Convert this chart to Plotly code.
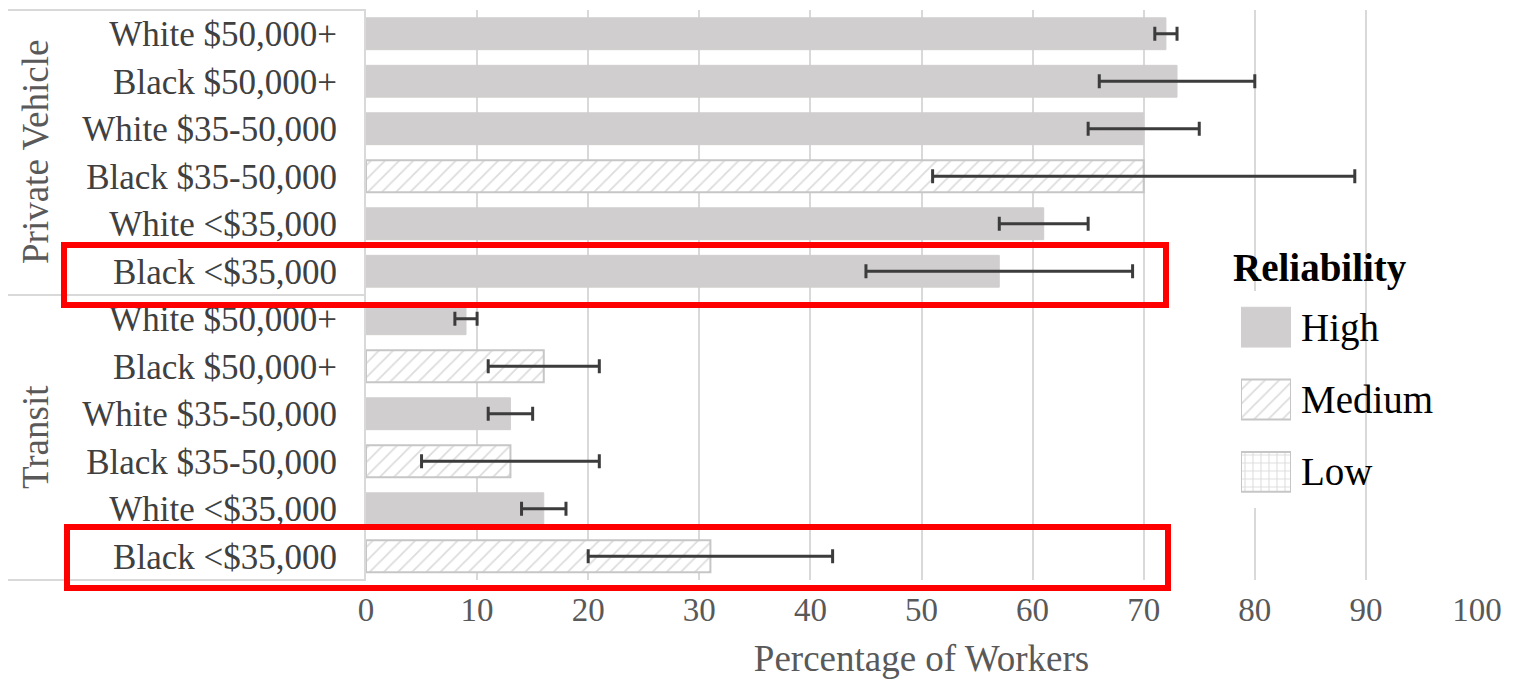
import plotly.graph_objects as go

# ---------------- data ----------------
modes = ["Private Vehicle"] * 6 + ["Transit"] * 6
groups = [
    "White $50,000+", "Black $50,000+", "White $35-50,000",
    "Black $35-50,000", "White <$35,000", "Black <$35,000",
    "White $50,000+", "Black $50,000+", "White $35-50,000",
    "Black $35-50,000", "White <$35,000", "Black <$35,000",
]
values = [72, 73, 70, 70, 61, 57, 9, 16, 13, 13, 16, 31]
errors = [1, 7, 5, 19, 4, 12, 1, 5, 2, 8, 2, 11]
reliability = ["High", "High", "High", "Medium", "High", "High",
               "High", "Medium", "High", "Medium", "High", "Medium"]
levels = ["High", "Medium", "Low"]
x_ticks = [0, 10, 20, 30, 40, 50, 60, 70, 80, 90, 100]

# ---------------- styling ----------------
W, H = 1514, 681
OFF = 8  # default page body margin
# plot area in screen pixels
SX0, SX1, SY0, SY1 = 366, 1477, 10, 580
L, T = SX0 - OFF, SY0 - OFF
R = W - (SX1 - OFF)
B = H - (SY1 - OFF)
PW, PH = SX1 - SX0, SY1 - SY0
FONT = "Liberation Serif, Times New Roman, serif"
GRID = "#d9d9d9"


def px(x):
    return (x - SX0) / PW


def py(y):
    return (SY1 - y) / PH


styles = {
    "High": dict(color="#d0cece", line=dict(color="#d0cece", width=1)),
    "Medium": dict(color="white", line=dict(color="#c6c6c6", width=2),
                   pattern=dict(shape="/", fgcolor="#b9b9b9", bgcolor="white",
                                size=10, solidity=0.18)),
    "Low": dict(color="white", line=dict(color="#c6c6c6", width=2),
                pattern=dict(shape="+", fgcolor="#bdbdbd", bgcolor="white",
                             size=8, solidity=0.25)),
}

keys = [f"{m}|{g}" for m, g in zip(modes, groups)]

fig = go.Figure()
for lev in levels:
    idx = [i for i, r in enumerate(reliability) if r == lev]
    if not idx:
        continue
    fig.add_trace(go.Bar(
        orientation="h",
        y=[keys[i] for i in idx],
        x=[values[i] for i in idx],
        width=0.67,
        marker=styles[lev],
        error_x=dict(type="data", array=[errors[i] for i in idx],
                     color="#3c3c3c", thickness=3, width=7),
        showlegend=False, xaxis="x", yaxis="y",
    ))

# legend swatches as a small bar subplot
for lev in levels:
    fig.add_trace(go.Bar(
        orientation="h", y=[lev], x=[1], width=0.55,
        marker=styles[lev], showlegend=False,
        xaxis="x2", yaxis="y2", hoverinfo="skip",
    ))

fig.update_layout(
    width=W, height=H,
    margin=dict(l=L, r=R, t=T, b=B),
    paper_bgcolor="white", plot_bgcolor="white",
    barmode="overlay",
    font=dict(family=FONT),
    xaxis=dict(
        range=[0, 100], tickvals=x_ticks, showgrid=True, gridcolor=GRID,
        gridwidth=2, zeroline=False, showline=False,
        tickfont=dict(size=33, color="#595959", family=FONT),
        ticklabelstandoff=7,
        title=dict(text="Percentage of Workers",
                   font=dict(size=37, color="#595959", family=FONT),
                   standoff=18),
    ),
    yaxis=dict(
        type="category", categoryarray=keys, autorange="reversed",
        tickvals=keys, ticktext=groups,
        tickfont=dict(size=35, color="#404040", family=FONT),
        ticklabelstandoff=20,
        showgrid=False, zeroline=False,
        showline=True, linecolor=GRID, linewidth=2,
    ),
    xaxis2=dict(domain=[px(1241), px(1291)], anchor="y2", range=[0, 1],
                visible=False),
    yaxis2=dict(domain=[py(508), py(291)], anchor="x2", type="category",
                categoryarray=levels, autorange="reversed", side="right",
                showgrid=False, zeroline=False, showline=False,
                tickfont=dict(size=39, color="black", family=FONT),
                ticklabelstandoff=9),
)

# header table lines on the left
for yy in (10, 295, 580):
    fig.add_shape(type="line", xref="paper", yref="paper",
                  x0=px(8), x1=px(366), y0=py(yy), y1=py(yy),
                  line=dict(color=GRID, width=2))

# group labels
for text, yc in (("Private Vehicle", 152), ("Transit", 437)):
    fig.add_annotation(text=text, xref="paper", yref="paper",
                       x=px(35), y=py(yc), showarrow=False, textangle=-90,
                       font=dict(size=37, color="#595959", family=FONT),
                       xanchor="center", yanchor="middle")

# legend title
fig.add_annotation(text="<b>Reliability</b>", xref="paper", yref="paper",
                   x=px(1231), y=py(268), showarrow=False,
                   xanchor="left", yanchor="middle",
                   font=dict(size=39, color="black", family=FONT))

# red highlight boxes
for x0, x1, y0, y1 in ((64, 1166, 245, 305), (67, 1168, 527, 588)):
    fig.add_shape(type="rect", xref="paper", yref="paper",
                  x0=px(x0), x1=px(x1), y0=py(y0), y1=py(y1),
                  line=dict(color="#ff0000", width=6), fillcolor="rgba(0,0,0,0)")

fig.write_html("out.html")
